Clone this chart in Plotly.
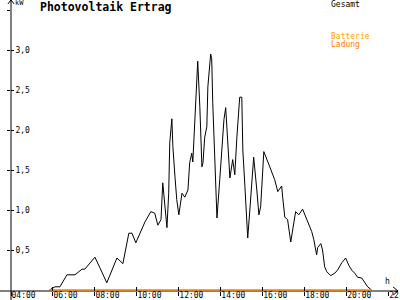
import plotly.graph_objects as go

DAY = "2023-06-01 "

# Gesamt (kW) over time of day
gesamt_times = ["05:50","06:06","06:20","06:40","07:03","07:23","07:31","08:00","08:14","08:34",
                "09:03","09:20","09:37","09:46","09:57","10:09","10:23","10:40","10:51","11:00",
                "11:09","11:14","11:17","11:26","11:31","11:34","11:40","11:43","11:49","11:54",
                "12:00","12:09","12:17","12:26","12:31","12:37","12:40","12:46","12:51","12:54",
                "13:00","13:06","13:09","13:14","13:20","13:23","13:31","13:34","13:37","13:43",
                "13:49","13:57","14:03","14:09","14:14","14:20","14:26","14:34","14:40","14:46",
                "14:54","15:00","15:03","15:09","15:14","15:17","15:23","15:29","15:34","15:43",
                "15:49","15:54","16:00","16:03","16:20","16:34","16:43","16:54","16:57","17:03",
                "17:11","17:20","17:34","17:43","17:54","18:00","18:09","18:20","18:26","18:34",
                "18:37","18:46","18:51","18:57","19:03","19:14","19:26","19:34","19:46","19:57",
                "20:06","20:14","20:23","20:31","20:43","20:51","21:00","21:11"]
gesamt_kw = [0.00,0.04,0.04,0.19,0.19,0.26,0.26,0.41,0.28,0.09,
             0.40,0.33,0.71,0.71,0.59,0.71,0.85,0.98,0.96,0.81,
             0.88,1.34,1.21,0.78,1.21,1.84,2.14,1.79,1.41,1.13,
             0.94,1.21,1.16,1.25,1.59,1.71,1.60,2.13,2.63,2.86,
             2.29,1.54,1.59,1.91,2.04,2.54,2.95,2.89,2.34,1.63,
             0.90,1.38,1.71,2.13,2.28,1.79,1.40,1.63,1.44,1.91,
             2.41,2.41,1.75,1.29,0.96,0.65,1.00,1.38,1.66,1.25,
             0.94,1.04,1.54,1.73,1.54,1.38,1.23,1.30,1.16,0.91,
             0.88,0.60,0.98,0.94,1.01,0.94,0.84,0.73,0.63,0.44,
             0.53,0.58,0.50,0.29,0.23,0.18,0.21,0.25,0.34,0.40,
             0.31,0.25,0.21,0.16,0.15,0.09,0.04,0.00]

# Batterie Ladung (kW)
batt_times = ["05:50", "21:11"]
batt_kw = [0.0, 0.0]

x_range = ["04:00", "22:01"]
y_ticks = [0.5, 1.0, 1.5, 2.0, 2.5, 3.0, 3.5]

FONT = "DejaVu Sans Mono"
ORANGE = "#FF8000"

fig = go.Figure()
fig.add_trace(go.Scatter(x=[DAY + t for t in gesamt_times], y=gesamt_kw, mode="lines",
                         line=dict(color="black", width=1), name="Gesamt",
                         xaxis="x", yaxis="y"))
fig.add_trace(go.Scatter(x=[DAY + t for t in batt_times], y=batt_kw, mode="lines",
                         line=dict(color=ORANGE, width=1.5), name="Batterie Ladung",
                         xaxis="x2", yaxis="y2"))

xr = [DAY + x_range[0], DAY + x_range[1]]
yr = [-0.0125, 3.5]

common_x = dict(type="date", range=xr, dtick=7200000, tick0=DAY + "04:00",
                showgrid=False, zeroline=False, showline=False, tickcolor="black",
                ticklen=4, tickwidth=1, automargin=False)
common_y = dict(range=yr, tickvals=y_ticks, showgrid=False, zeroline=False,
                showline=False, tickcolor="black", ticklen=3, tickwidth=1, automargin=False)

fig.update_layout(
    width=400, height=300,
    margin=dict(l=11, r=11, t=10, b=9),
    paper_bgcolor="white", plot_bgcolor="white",
    showlegend=False,
    separators=",.",
    font=dict(family=FONT, size=8, color="black"),
    xaxis=dict(**common_x, ticks="outside", tickformat="%H:%M",
               ticklabelposition="outside right", ticklabelstandoff=-4,
               ticklabeloverflow="allow",
               tickfont=dict(family=FONT, size=8, color="black")),
    xaxis2=dict(**common_x, ticks="inside", showticklabels=False,
                overlaying="x", anchor="y2"),
    yaxis=dict(**common_y, ticks="outside", showticklabels=False),
    yaxis2=dict(**common_y, ticks="inside", tickformat=".1f",
                ticklabelposition="inside", overlaying="y", anchor="x2",
                tickfont=dict(family=FONT, size=8, color="black")),
)

# axis lines with arrows (decoration)
fig.add_shape(type="line", xref="paper", yref="paper", x0=-0.03, x1=1.024, y0=0.0, y1=0.0,
              line=dict(color="black", width=1), layer="below")
fig.add_shape(type="line", xref="paper", yref="paper", x0=0, x1=0, y0=-0.04, y1=1.036,
              line=dict(color="black", width=1), layer="below")
for dx, dy in [(-5, 4), (-5, -4)]:
    fig.add_shape(type="line", xref="paper", yref="paper", xsizemode="pixel", ysizemode="pixel",
                  xanchor=1.024, yanchor=0.0, x0=dx, y0=dy, x1=0, y1=0,
                  line=dict(color="black", width=1))
for dx, dy in [(-3, -4), (3, -4)]:
    fig.add_shape(type="line", xref="paper", yref="paper", xsizemode="pixel", ysizemode="pixel",
                  xanchor=0, yanchor=1.036, x0=dx, y0=dy, x1=0, y1=0,
                  line=dict(color="black", width=1))

def label(text, x, y, size=8, color="black", bold=False, xanchor="left"):
    fig.add_annotation(text=("<b>%s</b>" % text) if bold else text, xref="paper", yref="paper",
                       x=x, y=y, xanchor=xanchor, yanchor="middle", showarrow=False,
                       font=dict(family=FONT, size=size, color=color))

# pixel -> paper helpers
px = lambda p: (p - 11) / 378.0
py = lambda p: (291 - p) / 281.0

label("Photovoltaik Ertrag", px(38), py(7), size=11.5, bold=True)
label("kW", px(13), py(3), size=7)
label("h", px(383), py(281), size=8)
label("Gesamt", px(329), py(5), size=8)
label("Batterie", px(329), py(36), size=8, color="#FFA500")
label("Ladung", px(329), py(44), size=8, color=ORANGE)

fig.write_html("out.html")
